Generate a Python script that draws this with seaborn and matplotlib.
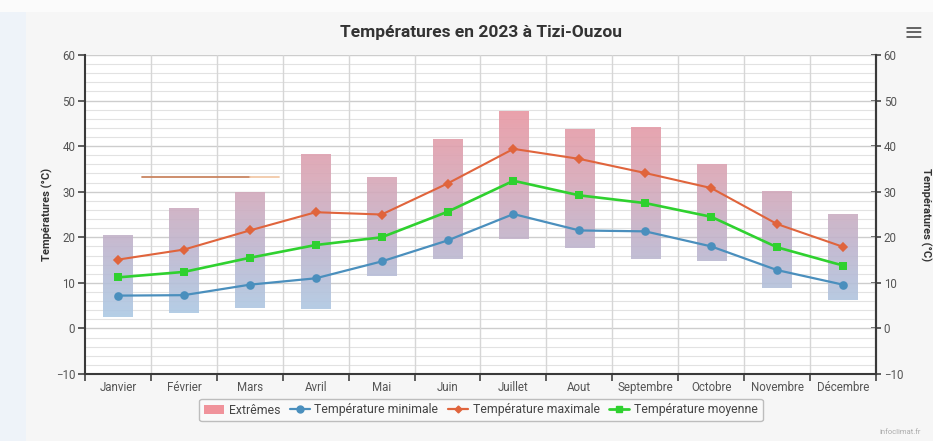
import numpy as np
import pandas as pd
import matplotlib
matplotlib.use("Agg")
import matplotlib.pyplot as plt
import seaborn as sns
from matplotlib.colors import LinearSegmentedColormap
from matplotlib.patches import Patch, Rectangle
from matplotlib.lines import Line2D

# ---------------- data ----------------
months = ["Janvier", "Février", "Mars", "Avril", "Mai", "Juin", "Juillet",
          "Aout", "Septembre", "Octobre", "Novembre", "Décembre"]
extreme_high = [20.5, 26.4, 29.9, 38.3, 33.3, 41.6, 47.8, 43.8, 44.1, 36.1, 30.1, 25.1]
extreme_low = [2.6, 3.3, 4.4, 4.3, 11.6, 15.3, 19.7, 17.7, 15.3, 14.9, 8.8, 6.3]
temp_max = [15.1, 17.3, 21.5, 25.5, 25.0, 31.8, 39.4, 37.2, 34.1, 30.8, 22.9, 17.9]
temp_mean = [11.2, 12.4, 15.5, 18.3, 20.0, 25.6, 32.4, 29.2, 27.5, 24.5, 17.8, 13.8]
temp_min = [7.2, 7.3, 9.6, 11.0, 14.7, 19.3, 25.1, 21.5, 21.3, 18.0, 12.8, 9.6]
y_ticks = [-10, 0, 10, 20, 30, 40, 50, 60]
# stray horizontal stroke visible in the source image (x in month units)
stray_x = [0.36, 2.0]
stray_x_light = [2.0, 2.45]
stray_y = [33.3, 33.3]

title = "Températures en 2023 à Tizi-Ouzou"
y_label = "Températures (°C)"
legend_labels = ["Extrêmes", "Température minimale", "Température maximale", "Température moyenne"]

c_min = "#4a8fbd"
c_max = "#e0643c"
c_mean = "#2fd12f"
c_ext = "#f0939b"

df = pd.DataFrame({
    "month": months,
    "low": extreme_low,
    "high": extreme_high,
    "tmax": temp_max,
    "tmean": temp_mean,
    "tmin": temp_min,
})
df["span"] = df["high"] - df["low"]

# ---------------- figure ----------------
sns.set_theme(style="white")
plt.rcParams["font.family"] = ["Roboto", "DejaVu Sans"]

fig = plt.figure(figsize=(9.33, 4.41), dpi=100, facecolor="#f6f6f6")
fig.patches.append(Rectangle((0, 0), 26 / 933, 1, transform=fig.transFigure,
                             facecolor="#eef3f9", edgecolor="none", zorder=0))
fig.patches.append(Rectangle((0, 1 - 12 / 441), 1, 12 / 441, transform=fig.transFigure,
                             facecolor="#fbfbfb", edgecolor="none", zorder=0))

ax = fig.add_axes([85 / 933, 1 - 374 / 441, (876 - 85) / 933, (374 - 55) / 441])
ax.set_facecolor("white")

# range bars (extremes)
sns.barplot(data=df, x="month", y="span", width=0.445, color=c_ext,
            errorbar=None, ax=ax, zorder=2, linewidth=0)
bars = list(ax.patches)
for p, lo in zip(bars, df["low"]):
    p.set_y(lo)

ax.set_ylim(-10, 60)
ax.set_xlim(-0.5, 11.5)

# vertical gradient fill (pink at top -> blue at bottom) clipped to the bars
cmap = LinearSegmentedColormap.from_list(
    "ext", ["#a9cde8", "#bdb6cf", "#d8a6b6", "#eb959f"])
grad = np.linspace(0, 1, 256).reshape(-1, 1)
for p in bars:
    x0 = p.get_x()
    x1 = x0 + p.get_width()
    im = ax.imshow(grad, extent=(x0, x1, 0, 50), origin="lower", cmap=cmap,
                   aspect="auto", zorder=2.1, alpha=0.9, interpolation="bilinear")
    im.set_clip_path(p)
    p.set_alpha(0)
ax.set_xlim(-0.5, 11.5)
ax.set_ylim(-10, 60)

# lines
sns.pointplot(data=df, x="month", y="tmax", color=c_max, markers="D",
              linestyles="-", errorbar=None, ax=ax, markersize=3.6,
              linewidth=1.5)
sns.pointplot(data=df, x="month", y="tmean", color=c_mean, markers="s",
              linestyles="-", errorbar=None, ax=ax, markersize=5.0,
              linewidth=1.9)
sns.pointplot(data=df, x="month", y="tmin", color=c_min, markers="o",
              linestyles="-", errorbar=None, ax=ax, markersize=5.0,
              linewidth=1.6)
for ln in ax.lines:
    ln.set_zorder(4)

ax.plot(stray_x, stray_y, color="#c98560", lw=1.3, zorder=3)
ax.plot(stray_x_light, stray_y, color="#f2c9a8", lw=1.3, zorder=3)

ax.set_xlim(-0.5, 11.5)
ax.set_ylim(-10, 60)

# grid
for y in np.arange(-10, 61, 2):
    if y % 10 == 0:
        ax.axhline(y, color="#cdcdcd", lw=1.0, zorder=1)
    else:
        ax.axhline(y, color="#e2e2e2", lw=0.8, zorder=1)
for xb in np.arange(0.5, 11.5, 1):
    ax.axvline(xb, color="#d6d6d6", lw=1.0, zorder=1)

# axes styling
ax.set_yticks(y_ticks)
ax.set_xticks(range(len(months)))
ax.set_xticklabels(months)
ax.set_xticks(np.arange(-0.5, 12, 1), minor=True)
ax.tick_params(axis="x", which="major", length=0, pad=5, labelsize=8.3,
               labelcolor="#555555")
ax.tick_params(axis="x", which="minor", length=5, width=1.2, color="#444444",
               direction="out", bottom=True)
ax.tick_params(axis="y", which="major", left=True, length=5, width=1.2,
               color="#444444", direction="out", labelsize=8.3,
               labelcolor="#555555", pad=2)
ax.set_xlabel("")
ax.set_ylabel(y_label, fontsize=8, fontweight="bold", color="#333333", labelpad=2)
for side in ["left", "bottom", "right"]:
    ax.spines[side].set_visible(True)
    ax.spines[side].set_color("#3a3a3a")
    ax.spines[side].set_linewidth(1.5)
ax.spines["top"].set_visible(False)

sec = ax.secondary_yaxis("right")
sec.set_yticks(y_ticks)
sec.tick_params(axis="y", length=7, width=1.2, color="#444444", direction="inout",
                labelsize=8.3, labelcolor="#555555", pad=2)
sec.spines["right"].set_color("#3a3a3a")
sec.spines["right"].set_linewidth(1.5)
sec.set_ylabel(y_label, fontsize=8, fontweight="bold", color="#333333",
               rotation=270, labelpad=20)

# title & decorations
fig.text(481 / 933, 1 - 33 / 441, title, ha="center", va="center",
         fontsize=12.5, fontweight="bold", color="#333333")
fig.text(913 / 933, 1 - 33 / 441, "≡", ha="center", va="center",
         fontsize=17, color="#666666", family=["DejaVu Sans"])
fig.text(900 / 933, 1 - 432 / 441, "infoclimat.fr", ha="center", va="center",
         fontsize=5.5, color="#aaaaaa")

handles = [
    Patch(facecolor=c_ext, edgecolor="none"),
    Line2D([], [], color=c_min, marker="o", markersize=5, lw=1.6),
    Line2D([], [], color=c_max, marker="D", markersize=3.5, lw=1.6),
    Line2D([], [], color=c_mean, marker="s", markersize=5, lw=2),
]
leg = fig.legend(handles, legend_labels, loc="center", ncol=4,
                 bbox_to_anchor=(481 / 933, 1 - 410 / 441), fontsize=8.8,
                 frameon=True, fancybox=True, edgecolor="#bdbdbd",
                 facecolor="#f9f9f9", framealpha=1, handlelength=1.6,
                 handletextpad=0.4, columnspacing=0.8, borderpad=0.4)
for t in leg.get_texts():
    t.set_color("#444444")

fig.savefig("out.png", dpi=100, facecolor=fig.get_facecolor())
